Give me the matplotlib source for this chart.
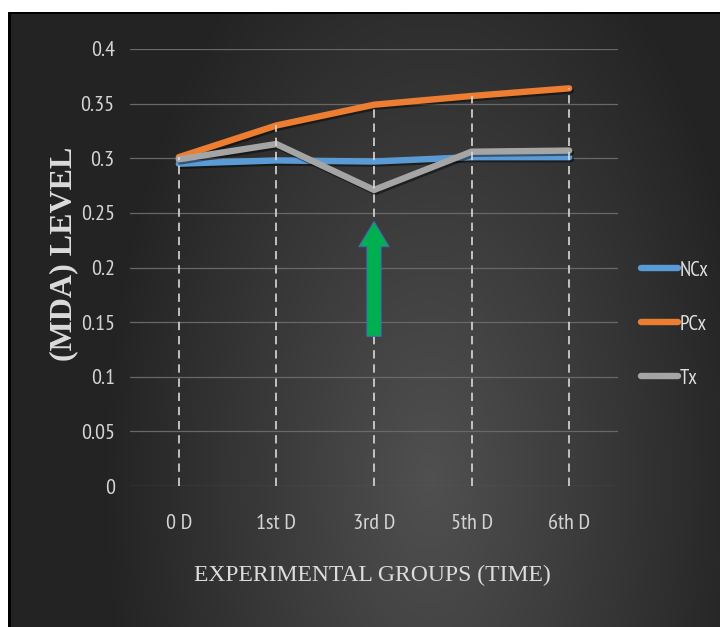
import numpy as np
import matplotlib
matplotlib.use("Agg")
import matplotlib.pyplot as plt
import matplotlib.patheffects as pe
from matplotlib.lines import Line2D

# ---------------- data ----------------
categories = ["0 D", "1st D", "3rd D", "5th D", "6th D"]
ncx = [0.295, 0.298, 0.297, 0.301, 0.301]
pcx = [0.301, 0.330, 0.349, 0.357, 0.364]
tx = [0.299, 0.313, 0.271, 0.306, 0.307]
series_names = ["NCx", "PCx", "Tx"]
series_colors = ["#5b9bd5", "#ed7d31", "#a5a5a5"]
yticks = [0, 0.05, 0.1, 0.15, 0.2, 0.25, 0.3, 0.35, 0.4]
ytick_labels = ["0", "0.05", "0.1", "0.15", "0.2", "0.25", "0.3", "0.35", "0.4"]
arrow_category = 2          # index of "3rd D"
arrow_from, arrow_to = 0.137, 0.242

W, H = 720, 627
fig = plt.figure(figsize=(W / 100, H / 100), dpi=100)
fig.patch.set_facecolor("white")

# ---------------- background (gradient + border) ----------------
bg = fig.add_axes([0, 0, 1, 1], zorder=-10)
yy, xx = np.mgrid[0:H, 0:W].astype(float)
r = np.sqrt(((xx - 430) / 330.0) ** 2 + ((yy - 480) / 620.0) ** 2)
t = np.clip(1 - r, 0, 1)
val = (0x23 + (0x50 - 0x23) * t) / 255.0
img = np.dstack([val, val, val])
img[(xx < 8) | (yy < 12)] = 1.0
img[((xx >= 8) & (xx < 11) & (yy >= 12)) | ((yy >= 12) & (yy < 14) & (xx >= 8))] = 0.0
bg.imshow(img, extent=[0, W, H, 0], aspect="auto", interpolation="bilinear")
bg.set_xlim(0, W)
bg.set_ylim(H, 0)
bg.axis("off")

# ---------------- main axes ----------------
left, right, top, bottom = 130, 618, 49, 486
ax = fig.add_axes([left / W, 1 - bottom / H, (right - left) / W, (bottom - top) / H])
ax.set_facecolor("none")
x = np.arange(len(categories))
ax.set_xlim(-0.5, len(categories) - 0.5)
ax.set_ylim(0, 0.4)

for s in ax.spines.values():
    s.set_visible(False)
ax.set_yticks(yticks)
ax.set_yticklabels(ytick_labels)
ax.set_xticks(x)
ax.set_xticklabels(categories)
ax.tick_params(axis="both", length=0, colors="#d4d4d4", labelsize=16)
ax.tick_params(axis="y", pad=11)
ax.tick_params(axis="x", pad=20)
for lab in ax.get_xticklabels() + ax.get_yticklabels():
    lab.set_family(["PT Sans Narrow", "DejaVu Sans"])
ax.yaxis.grid(True, color="#686868", lw=0.9)
ax.set_axisbelow(True)

# series lines
handles = []
for vals, name, col in zip([ncx, pcx, tx], series_names, series_colors):
    ax.plot(x, vals, color=col, lw=4.6, solid_capstyle="round",
            solid_joinstyle="miter", zorder=3, label=name,
            path_effects=[pe.SimpleLineShadow(offset=(1.2, -1.5), shadow_color="black", alpha=0.45),
                          pe.Normal()])
    handles.append(Line2D([], [], color=col, lw=4.6, solid_capstyle="round"))

# drop lines (from highest series value to axis)
tops = np.max(np.vstack([ncx, pcx, tx]), axis=0)
ax.vlines(x, 0, tops, colors="#d9d9d9", lw=1.2, linestyles=(0, (5, 3.5)), zorder=4)

# green arrow
ax.annotate("", xy=(x[arrow_category], arrow_to), xytext=(x[arrow_category], arrow_from),
            arrowprops=dict(arrowstyle="simple,head_length=1.2,head_width=1.45,tail_width=0.68",
                            fc="#00b050", ec="#3e6bb0", lw=0.8, shrinkA=0, shrinkB=0,
                            mutation_scale=15),
            zorder=5)

# legend
leg = fig.legend(handles, series_names, loc="upper left",
                 bbox_to_anchor=(622 / W, 1 - 242 / H), frameon=False,
                 handlelength=1.8, handletextpad=0.08, labelspacing=1.68,
                 prop={"family": ["PT Sans Narrow", "DejaVu Sans"], "size": 15})
for txt in leg.get_texts():
    txt.set_color("#e0e0e0")

# axis titles
fig.text(64 / W, 1 - 254 / H, "(MDA) LEVEL", rotation=90, ha="center", va="center",
         family=["Liberation Serif", "DejaVu Serif"], fontweight="bold", fontsize=23,
         color="#dcdcdc")
fig.text(372 / W, 1 - 575 / H, "EXPERIMENTAL GROUPS (TIME)", ha="center", va="center",
         family=["Liberation Serif", "DejaVu Serif"], fontsize=17, color="#dcdcdc")

fig.savefig("out.png", dpi=100, facecolor=fig.get_facecolor())
